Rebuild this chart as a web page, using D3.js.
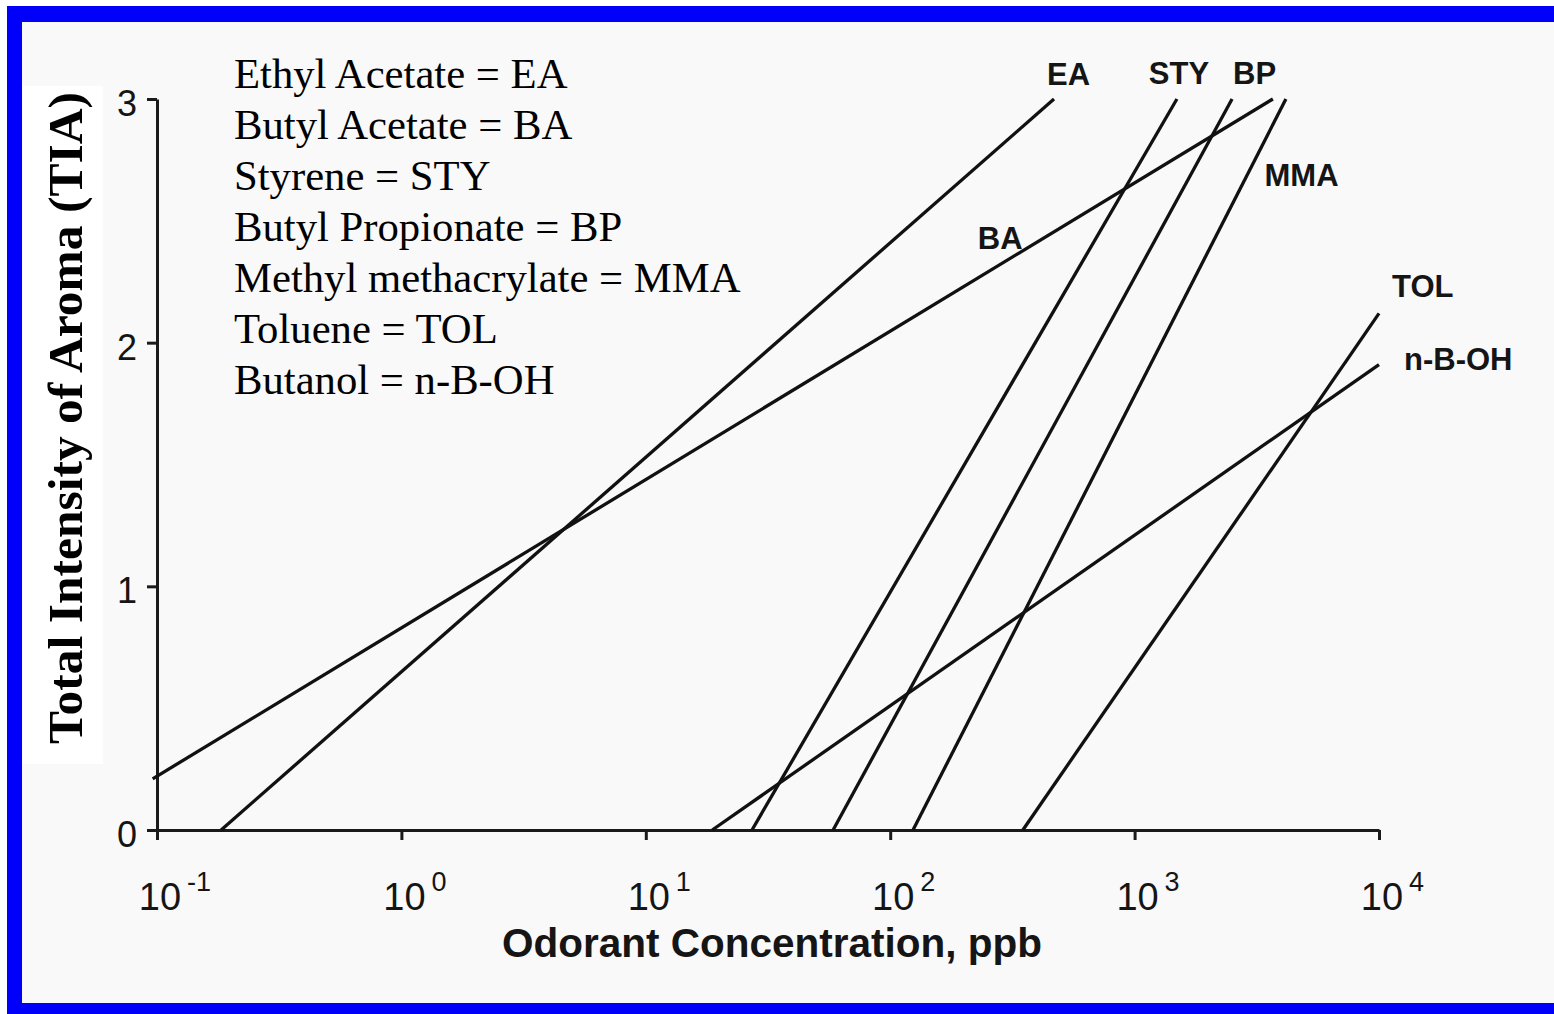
<!DOCTYPE html>
<html>
<head>
<meta charset="utf-8">
<script src="https://cdn.jsdelivr.net/npm/d3@7"></script>
<style>
  body { margin: 0; background: #fff; }
  text { font-family: 'Liberation Sans', Arial, sans-serif; fill: #151515; }
  .serif { font-family: 'Liberation Serif', 'Times New Roman', serif; fill: #000; }
</style>
</head>
<body>
<div id="chart"></div>
<script>
// odorant lines: straight in log(ppb) vs TIA, given by their two ends
let series = ['EA', 'BA', 'STY', 'BP', 'MMA', 'TOL', 'n-B-OH']
let startPpb = [0.183, 0.096, 27.2, 58.4, 124, 349, 18.7]
let startTia = [0, 0.21, 0, 0, 0, 0, 0]
let endPpb = [468, 3680, 1490, 2505, 4160, 10000, 10000]
let endTia = [3.0, 3.0, 3.0, 3.0, 3.0, 2.12, 1.91]

let legendLines = [
  'Ethyl Acetate = EA',
  'Butyl Acetate = BA',
  'Styrene = STY',
  'Butyl Propionate = BP',
  'Methyl methacrylate = MMA',
  'Toluene = TOL',
  'Butanol = n-B-OH'
]

let xTicks = [0.1, 1, 10, 100, 1000, 10000]
let xExponents = ['-1', '0', '1', '2', '3', '4']
let yTicks = [0, 1, 2, 3]

let margin = { top: 99, left: 157, right: 175, bottom: 184 }
let fullWidth = 1554
let fullHeight = 1014
let width = fullWidth - margin.left - margin.right
let height = fullHeight - margin.top - margin.bottom

let root = d3
  .select('#chart')
  .append('svg')
  .attr('width', fullWidth)
  .attr('height', fullHeight)

// frame: blue band left / top / bottom, off-white panel
root.append('rect').attr('x', 22).attr('y', 22).attr('width', fullWidth - 22).attr('height', 981).attr('fill', '#f9f9f9')
root.append('rect').attr('x', 7).attr('y', 6).attr('width', fullWidth - 7).attr('height', 16).attr('fill', '#0000fa')
root.append('rect').attr('x', 7).attr('y', 6).attr('width', 15).attr('height', 1008).attr('fill', '#0000fa')
root.append('rect').attr('x', 7).attr('y', 1003).attr('width', fullWidth - 7).attr('height', 11).attr('fill', '#0000fa')

// white box behind the y label
root.append('rect').attr('x', 23).attr('y', 86).attr('width', 80).attr('height', 678).attr('fill', '#fff')

let svg = root.append('g').attr('transform', 'translate(' + margin.left + ',' + margin.top + ')')

let xPositionScale = d3.scaleLog().domain([0.1, 10000]).range([0, width])
let yPositionScale = d3.scaleLinear().domain([0, 3]).range([height, 0])

let datapoints = series.map((name, i) => {
  return {
    name: name,
    values: [
      { ppb: startPpb[i], tia: startTia[i] },
      { ppb: endPpb[i], tia: endTia[i] }
    ]
  }
})

let line = d3
  .line()
  .x(d => xPositionScale(d.ppb))
  .y(d => yPositionScale(d.tia))

// axes
let xAxis = d3.axisBottom(xPositionScale).tickValues(xTicks).tickSize(10).tickSizeOuter(0).tickFormat('')
svg.append('g').attr('class', 'axis x-axis').attr('transform', 'translate(0,' + height + ')').call(xAxis)

let yAxis = d3.axisLeft(yPositionScale).tickValues(yTicks).tickSize(10).tickSizeOuter(0).tickFormat('')
svg.append('g').attr('class', 'axis y-axis').call(yAxis)

svg.selectAll('.axis path, .axis line').attr('stroke', '#1a1a1a').attr('stroke-width', 3)

// y tick labels
svg
  .selectAll('.y-label')
  .data(yTicks)
  .enter()
  .append('text')
  .attr('class', 'y-label')
  .attr('x', -20)
  .attr('y', d => yPositionScale(d))
  .attr('dy', 17)
  .attr('text-anchor', 'end')
  .attr('font-size', 36)
  .text(d => d)

// x tick labels, 10 with superscript exponent
svg
  .selectAll('.x-base')
  .data(xTicks)
  .enter()
  .append('text')
  .attr('class', 'x-base')
  .attr('x', d => xPositionScale(d) + 3)
  .attr('y', height + 80)
  .attr('text-anchor', 'middle')
  .attr('font-size', 38)
  .text('10')

svg
  .selectAll('.x-exp')
  .data(xTicks)
  .enter()
  .append('text')
  .attr('class', 'x-exp')
  .attr('x', d => xPositionScale(d) + 30)
  .attr('y', height + 61)
  .attr('font-size', 27)
  .text((d, i) => xExponents[i])

svg
  .append('text')
  .attr('x', 615)
  .attr('y', height + 127)
  .attr('text-anchor', 'middle')
  .attr('font-size', 40.5)
  .attr('font-weight', 'bold')
  .attr('fill', '#222')
  .text('Odorant Concentration, ppb')

// odorant lines
svg
  .selectAll('.tia-line')
  .data(datapoints)
  .enter()
  .append('path')
  .attr('class', 'tia-line')
  .attr('d', d => line(d.values))
  .attr('fill', 'none')
  .attr('stroke', '#111')
  .attr('stroke-width', 3.3)

// where each name sits: a point along its line plus a nudge
let labelSpots = {
  EA: { at: 1, dx: -7, dy: -14, anchor: 'start' },
  BA: { at: 0.7366, dx: 0, dy: -29, anchor: 'start' },
  STY: { at: 1, dx: 2, dy: -15, anchor: 'middle' },
  BP: { at: 1, dx: 1, dy: -15, anchor: 'start' },
  MMA: { at: 0.881, dx: 23, dy: 0, anchor: 'start' },
  TOL: { at: 1, dx: 13, dy: -16, anchor: 'start' },
  'n-B-OH': { at: 1, dx: 25, dy: 5, anchor: 'start' }
}

function spotOf(d) {
  let s = labelSpots[d.name]
  let a = d.values[0]
  let b = d.values[1]
  let x0 = xPositionScale(a.ppb)
  let y0 = yPositionScale(a.tia)
  let x1 = xPositionScale(b.ppb)
  let y1 = yPositionScale(b.tia)
  return [x0 + (x1 - x0) * s.at + s.dx, y0 + (y1 - y0) * s.at + s.dy]
}

svg
  .selectAll('.line-name')
  .data(datapoints)
  .enter()
  .append('text')
  .attr('class', 'line-name')
  .attr('x', d => spotOf(d)[0])
  .attr('y', d => spotOf(d)[1])
  .attr('text-anchor', d => labelSpots[d.name].anchor)
  .attr('font-size', 31)
  .attr('font-weight', 'bold')
  .attr('fill', '#1c1c1c')
  .text(d => d.name)

// legend of abbreviations
root
  .selectAll('.legend')
  .data(legendLines)
  .enter()
  .append('text')
  .attr('class', 'legend serif')
  .attr('x', 234)
  .attr('y', (d, i) => 88 + i * 51)
  .attr('font-size', 42.7)
  .text(d => d)

// y title
root
  .append('text')
  .attr('class', 'serif')
  .attr('transform', 'translate(82,418) rotate(-90)')
  .attr('text-anchor', 'middle')
  .attr('font-size', 49.5)
  .attr('font-weight', 'bold')
  .text('Total Intensity of Aroma (TIA)')
</script>
</body>
</html>
